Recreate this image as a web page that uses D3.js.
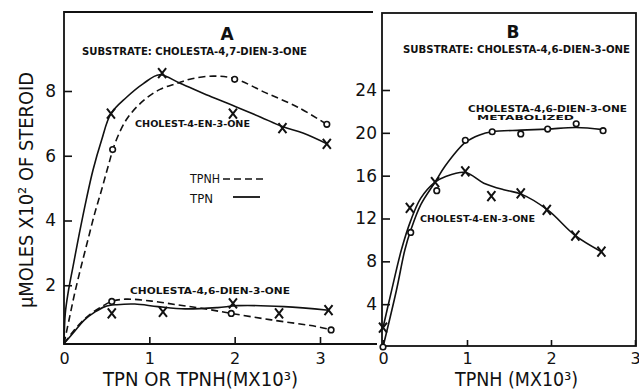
<!DOCTYPE html>
<html>
<head>
<meta charset="utf-8">
<script src="https://cdn.jsdelivr.net/npm/d3@7"></script>
<style>
  html, body { margin: 0; padding: 0; background: #fff; }
  svg { display: block; }
  text { font-family: "DejaVu Sans", "Liberation Sans", sans-serif; fill: #111; }
</style>
</head>
<body>
<svg id="chart" width="639" height="389"></svg>
<script>
// ---- Tick values ----
const xTicks = [0, 1, 2, 3];
const yTicksA = [2, 4, 6, 8];
const yTicksB = [4, 8, 12, 16, 20, 24];

// ---- Panel A: substrate cholesta-4,7-dien-3-one ----
// Cholest-4-en-3-one formed, TPN (X) and TPNH (o): measured points
const aEnTpnX = [0.55, 1.15, 1.98, 2.56, 3.08];
const aEnTpnY = [7.3, 8.55, 7.3, 6.85, 6.37];
const aEnTpnhX = [0.57, 2.0, 3.08];
const aEnTpnhY = [6.19, 8.36, 6.97];
// hand-fitted curves through the points
const aEnTpnCurveX = [0, 0.015, 0.047, 0.105, 0.18, 0.26, 0.34, 0.44, 0.55, 0.73, 0.93, 1.12, 1.36, 1.7, 1.98, 2.3, 2.56, 2.8, 3.08];
const aEnTpnCurveY = [0.2, 1.13, 1.75, 2.57, 3.6, 4.63, 5.56, 6.48, 7.3, 7.8, 8.23, 8.5, 8.24, 7.85, 7.55, 7.2, 6.9, 6.7, 6.37];
const aEnTpnhCurveX = [0, 0.067, 0.125, 0.2, 0.28, 0.36, 0.44, 0.52, 0.6, 0.74, 0.93, 1.125, 1.32, 1.5, 1.75, 2.0, 2.36, 2.74, 3.08];
const aEnTpnhCurveY = [0.2, 1.03, 1.75, 2.57, 3.4, 4.22, 4.94, 5.7, 6.4, 7.15, 7.7, 8.05, 8.23, 8.38, 8.46, 8.38, 7.95, 7.5, 6.97];

// Cholesta-4,6-dien-3-one formed, TPN (X) and TPNH (o)
const aDienTpnX = [0.56, 1.16, 1.98, 2.52, 3.1];
const aDienTpnY = [1.13, 1.18, 1.44, 1.13, 1.23];
const aDienTpnhX = [0.56, 1.96, 3.13];
const aDienTpnhY = [1.5, 1.13, 0.62];
const aDienTpnCurveX = [0, 0.1, 0.24, 0.36, 0.48, 0.62, 0.83, 1.1, 1.42, 1.8, 2.04, 2.58, 3.1];
const aDienTpnCurveY = [0.2, 0.5, 0.93, 1.17, 1.34, 1.4, 1.42, 1.34, 1.27, 1.31, 1.37, 1.34, 1.23];
const aDienTpnhCurveX = [0, 0.1, 0.2, 0.32, 0.45, 0.56, 0.72, 1.03, 1.34, 1.61, 1.96, 2.43, 2.97, 3.13];
const aDienTpnhCurveY = [0.2, 0.55, 0.85, 1.13, 1.35, 1.5, 1.57, 1.51, 1.39, 1.29, 1.13, 0.93, 0.72, 0.62];

// ---- Panel B: substrate cholesta-4,6-dien-3-one, TPNH ----
const bMetX = [0, 0.33, 0.64, 0.98, 1.3, 1.64, 1.96, 2.3, 2.62];
const bMetY = [0, 10.7, 14.6, 19.3, 20.1, 19.9, 20.35, 20.85, 20.2];
const bEnX = [0, 0.32, 0.62, 0.98, 1.29, 1.64, 1.95, 2.29, 2.6];
const bEnY = [1.8, 13.0, 15.4, 16.4, 14.1, 14.35, 12.8, 10.4, 8.9];
const bMetCurveX = [0, 0.16, 0.26, 0.33, 0.45, 0.62, 0.74, 0.98, 1.15, 1.3, 1.64, 1.96, 2.3, 2.62];
const bMetCurveY = [0, 5.3, 9.06, 10.9, 13.3, 15.4, 16.9, 19.1, 19.8, 20.1, 20.25, 20.35, 20.5, 20.3];
const bEnCurveX = [0, 0.1, 0.22, 0.33, 0.45, 0.62, 0.74, 0.98, 1.2, 1.45, 1.64, 1.96, 2.29, 2.6];
const bEnCurveY = [1.8, 5.2, 9.1, 11.8, 13.9, 15.4, 15.9, 16.3, 15.3, 14.66, 14.3, 12.8, 10.4, 8.9];

const zip = (xs, ys) => xs.map((x, i) => [x, ys[i]]);

const svg = d3.select("#chart");

// ---- Scales ----
const xA = d3.scaleLinear().domain([0, 3]).range([64, 320]);
const yA = d3.scaleLinear().domain([0, 8]).range([350, 91]);
const xB = d3.scaleLinear().domain([0, 3]).range([383, 635]);
const yB = d3.scaleLinear().domain([0, 24]).range([347, 90]);

// ---- Frames ----
const ink = "#111";
svg.append("path")
  .attr("d", "M373,12 H64 V344 H377")
  .attr("fill", "none").attr("stroke", ink).attr("stroke-width", 1.8);
svg.append("rect")
  .attr("x", 382).attr("y", 13).attr("width", 254).attr("height", 333)
  .attr("fill", "none").attr("stroke", ink).attr("stroke-width", 1.8);

// ---- Axes ----
function styleAxis(g, size) {
  g.select(".domain").remove();
  g.selectAll(".tick line").attr("stroke", ink).attr("stroke-width", 1.6);
  g.selectAll(".tick text")
    .attr("fill", ink)
    .style("font-family", "'DejaVu Sans', sans-serif")
    .style("font-size", size + "px");
}
svg.append("g").attr("transform", "translate(64,0)")
  .call(d3.axisLeft(yA).tickValues(yTicksA).tickSize(-8).tickPadding(8).tickFormat(d3.format("d")))
  .call(g => styleAxis(g, 17));
svg.append("g").attr("transform", "translate(0,344)")
  .call(d3.axisBottom(xA).tickValues(xTicks).tickSize(-7).tickPadding(9).tickFormat(d3.format("d")))
  .call(g => styleAxis(g, 16));
svg.append("g").attr("transform", "translate(382,0)")
  .call(d3.axisLeft(yB).tickValues(yTicksB).tickSize(-8).tickPadding(5).tickFormat(d3.format("d")))
  .call(g => styleAxis(g, 17));
svg.append("g").attr("transform", "translate(0,346)")
  .call(d3.axisBottom(xB).tickValues(xTicks).tickSize(-6).tickPadding(7).tickFormat(d3.format("d")))
  .call(g => styleAxis(g, 16));

// ---- Curves ----
function curve(xs, ys, sx, sy, dashed) {
  const line = d3.line().x(d => sx(d[0])).y(d => sy(d[1])).curve(d3.curveCatmullRom.alpha(0.5));
  svg.append("path")
    .attr("d", line(zip(xs, ys)))
    .attr("fill", "none")
    .attr("stroke", ink)
    .attr("stroke-width", 1.6)
    .attr("stroke-dasharray", dashed ? "7,4" : null);
}
curve(aEnTpnCurveX, aEnTpnCurveY, xA, yA, false);
curve(aEnTpnhCurveX, aEnTpnhCurveY, xA, yA, true);
curve(aDienTpnCurveX, aDienTpnCurveY, xA, yA, false);
curve(aDienTpnhCurveX, aDienTpnhCurveY, xA, yA, true);
curve(bMetCurveX, bMetCurveY, xB, yB, false);
curve(bEnCurveX, bEnCurveY, xB, yB, false);

// ---- Markers ----
function crosses(xs, ys, sx, sy) {
  svg.append("g").selectAll("path").data(zip(xs, ys)).join("path")
    .attr("transform", d => `translate(${sx(d[0])},${sy(d[1])})`)
    .attr("d", "M-4,-5 L4,5 M4,-5 L-4,5")
    .attr("fill", "none").attr("stroke", ink).attr("stroke-width", 2);
}
function rings(xs, ys, sx, sy) {
  svg.append("g").selectAll("circle").data(zip(xs, ys)).join("circle")
    .attr("cx", d => sx(d[0])).attr("cy", d => sy(d[1])).attr("r", 2.8)
    .attr("fill", "#fff").attr("stroke", ink).attr("stroke-width", 1.6);
}
crosses(aEnTpnX, aEnTpnY, xA, yA);
rings(aEnTpnhX, aEnTpnhY, xA, yA);
crosses(aDienTpnX, aDienTpnY, xA, yA);
rings(aDienTpnhX, aDienTpnhY, xA, yA);
rings(bMetX, bMetY, xB, yB);
crosses(bEnX, bEnY, xB, yB);

// ---- Text ----
function label(txt, x, y, size, len, opts = {}) {
  const t = svg.append("text")
    .attr("x", x).attr("y", y)
    .style("font-size", size + "px")
    .style("font-weight", opts.bold ? "bold" : "normal")
    .attr("text-anchor", opts.anchor || "start")
    .text(txt);
  if (len) t.attr("textLength", len).attr("lengthAdjust", "spacingAndGlyphs");
  if (opts.rotate) t.attr("transform", `rotate(${opts.rotate},${x},${y})`);
  return t;
}
label("A", 227, 40, 17, null, { bold: true, anchor: "middle" });
label("B", 513, 38, 17, null, { bold: true, anchor: "middle" });
label("SUBSTRATE: CHOLESTA-4,7-DIEN-3-ONE", 82, 55, 10.5, 225, { bold: true });
label("SUBSTRATE: CHOLESTA-4,6-DIEN-3-ONE", 403, 53, 10.5, 227, { bold: true });
label("CHOLEST-4-EN-3-ONE", 135, 127, 9, 115, { bold: true });
label("CHOLESTA-4,6-DIEN-3-ONE", 130, 294, 9.5, 160, { bold: true });
label("CHOLESTA-4,6-DIEN-3-ONE", 468, 112, 9.5, 159, { bold: true });
label("METABOLIZED", 477, 119.5, 7, 97, { bold: true });
label("CHOLEST-4-EN-3-ONE", 420, 222, 9, 115, { bold: true });

// legend
label("TPNH", 190, 183, 12, 30);
label("TPN", 190, 203, 12, 23);
svg.append("line").attr("x1", 223).attr("x2", 263).attr("y1", 179).attr("y2", 179)
  .attr("stroke", ink).attr("stroke-width", 1.6).attr("stroke-dasharray", "7,4");
svg.append("line").attr("x1", 233).attr("x2", 260).attr("y1", 197).attr("y2", 197)
  .attr("stroke", ink).attr("stroke-width", 1.8);

// axis titles
label("TPN OR TPNH(MX10³)", 103, 386, 19, 195);
label("TPNH (MX10³)", 455, 386, 19, 123);
label("μMOLES X10² OF STEROID", 33, 190, 20, 236, { anchor: "middle", rotate: -90 });
</script>
</body>
</html>
